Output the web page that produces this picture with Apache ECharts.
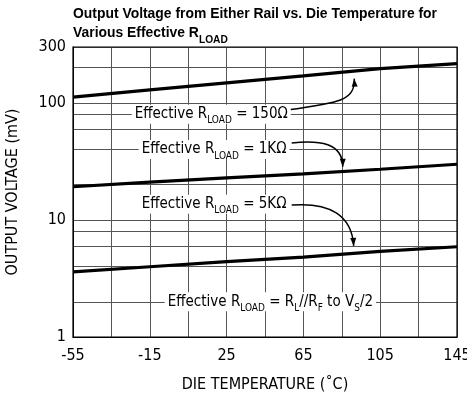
<!DOCTYPE html>
<html>
<head>
<meta charset="utf-8">
<script src="https://cdn.jsdelivr.net/npm/echarts@6/dist/echarts.min.js"></script>
<style>
  html, body { margin: 0; padding: 0; background: #fff; }
  #chart { width: 467px; height: 394px; }
</style>
</head>
<body>
<div id="chart"></div>
<script>
// Die temperature (°C) and output voltage from either rail (mV)
const temps = [-55, -15, 25, 65, 105, 145];
const rLoad150 = [112, 129, 148, 170, 196, 216];
const rLoad1k = [19.2, 21.0, 22.9, 24.7, 27.1, 29.9];
const rLoad5k = [3.6, 3.98, 4.41, 4.81, 5.38, 5.9];

// Axis ticks, grid lines and tick labels
const xGridValues = [-55, -35, -15, 5, 25, 45, 65, 85, 105, 125, 145];
const xLabelValues = [-55, -15, 25, 65, 105, 145];
const yGridValues = [1, 2, 4, 6, 8, 10, 20, 40, 60, 80, 100, 200, 300];
const yLabelValues = [1, 10, 100, 300];

// Heading lines
const titleLines = [
  'Output Voltage from Either Rail vs. Die Temperature for',
  'Various Effective R{s|LOAD}'
];

// Callout texts, their anchor (temperature, mV) and leader curves in data space
const calloutTexts = [
  'Effective R{s|LOAD} = 150Ω',
  'Effective R{s|LOAD} = 1KΩ',
  'Effective R{s|LOAD} = 5KΩ',
  'Effective R{s|LOAD} = R{s|L}//R{s|F} to V{s|S}/2'
];
const calloutAnchors = [[17, 80], [18.5, 40], [18.5, 13.6], [47.8, 2]];
const leaderCurves = [
  [[56.7, 87], [82.7, 99.5], [92.1, 104], [91.5, 161]],
  [[58.9, 45.5], [73.5, 48.3], [85.5, 45.5], [85.5, 28.4]],
  [[58.9, 13.4], [78.7, 14.2], [90.2, 11.0], [91.2, 6.0]],
  null
];

const FONT = "'Liberation Sans Narrow', 'DejaVu Sans Condensed', 'Arial Narrow', sans-serif";
const TITLE_FONT = "'Liberation Sans', Arial, sans-serif";
const toPairs = (vals) => temps.map((t, i) => [t, vals[i]]);

const chart = echarts.init(document.getElementById('chart'), null, { renderer: 'canvas' });

const lineSeries = (name, vals) => ({
  name,
  type: 'line',
  data: toPairs(vals),
  symbol: 'none',
  smooth: false,
  lineStyle: { color: '#000', width: 3.2 },
  z: 5
});

chart.setOption({
  animation: false,
  backgroundColor: '#fff',
  grid: { left: 73, right: 10, top: 47, bottom: 57, outerBoundsMode: 'none' },
  xAxis: {
    type: 'value',
    min: -55,
    max: 145,
    name: 'DIE TEMPERATURE (˚C)',
    nameLocation: 'middle',
    nameGap: 40,
    nameTextStyle: { fontFamily: FONT, fontSize: 16, color: '#000' },
    axisLine: { show: true, onZero: false, lineStyle: { color: '#000', width: 1 } },
    axisTick: { show: false, customValues: xGridValues },
    axisLabel: {
      customValues: xLabelValues,
      fontFamily: FONT, fontSize: 16, color: '#000', margin: 11
    },
    splitLine: { show: true, lineStyle: { color: '#555', width: 1 } }
  },
  yAxis: {
    type: 'log',
    logBase: 10,
    min: 1,
    max: 300,
    name: 'OUTPUT VOLTAGE (mV)',
    nameLocation: 'middle',
    nameGap: 52,
    nameTextStyle: { fontFamily: FONT, fontSize: 16, color: '#000' },
    axisLine: { show: true, onZero: false, lineStyle: { color: '#000', width: 1 } },
    axisTick: { show: false, customValues: yGridValues },
    axisLabel: {
      customValues: yLabelValues,
      fontFamily: FONT, fontSize: 16, color: '#000', margin: 7
    },
    splitLine: { show: true, lineStyle: { color: '#555', width: 1 } }
  },
  series: [
    lineSeries('150Ω', rLoad150),
    lineSeries('1KΩ', rLoad1k),
    lineSeries('5KΩ', rLoad5k)
  ]
});

// Heading, frame, callout boxes and leader arrows placed through the chart's coordinate system
function drawOverlays() {
  const px = (p) => chart.convertToPixel({ gridIndex: 0 }, p);
  const graphics = [];

  // Condensed bold heading: squeeze horizontally so the first line spans the plot width
  const ctx = document.createElement('canvas').getContext('2d');
  ctx.font = 'bold 15px ' + TITLE_FONT;
  const firstLineWidth = ctx.measureText(titleLines[0]).width;
  const tl = px([-55, 300]), br = px([145, 1]);
  const squeeze = (br[0] - tl[0] - 20) / firstLineWidth;
  graphics.push({
    type: 'text',
    x: tl[0],
    y: 4,
    scaleX: squeeze,
    z: 60,
    style: {
      text: titleLines.join('\n'),
      fontFamily: TITLE_FONT,
      fontWeight: 'bold',
      fontSize: 15,
      lineHeight: 19,
      fill: '#000',
      align: 'left',
      verticalAlign: 'top',
      rich: {
        s: { fontFamily: TITLE_FONT, fontWeight: 'bold', fontSize: 11, lineHeight: 11, verticalAlign: 'bottom', padding: [0, 0, -3, 0] }
      }
    }
  });

  calloutTexts.forEach((txt, i) => {
    const c = px(calloutAnchors[i]);
    graphics.push({
      type: 'text',
      x: c[0],
      y: c[1],
      z: 50,
      style: {
        text: txt,
        fontFamily: FONT,
        fontSize: 15,
        fill: '#000',
        align: 'center',
        verticalAlign: 'middle',
        backgroundColor: '#fff',
        padding: [2, 3, 2, 3],
        rich: {
          s: { fontFamily: FONT, fontSize: 10, lineHeight: 9, verticalAlign: 'bottom', padding: [0, 0, -4, 0] }
        }
      }
    });
    const curve = leaderCurves[i];
    if (!curve) return;
    const [p0, p1, p2, p3] = curve.map(px);
    graphics.push({
      type: 'bezierCurve',
      z: 49,
      shape: { x1: p0[0], y1: p0[1], cpx1: p1[0], cpy1: p1[1], cpx2: p2[0], cpy2: p2[1], x2: p3[0], y2: p3[1] },
      style: { stroke: '#000', lineWidth: 1.5, fill: null }
    });
    const ang = Math.atan2(p3[1] - p2[1], p3[0] - p2[0]);
    const len = 8, half = 3;
    const bx = p3[0] - len * Math.cos(ang), by = p3[1] - len * Math.sin(ang);
    graphics.push({
      type: 'polygon',
      z: 49,
      shape: {
        points: [
          [p3[0], p3[1]],
          [bx + half * Math.sin(ang), by - half * Math.cos(ang)],
          [bx - half * Math.sin(ang), by + half * Math.cos(ang)]
        ]
      },
      style: { fill: '#000' }
    });
  });

  graphics.push({
    type: 'rect',
    z: 48,
    shape: { x: tl[0], y: tl[1], width: br[0] - tl[0], height: br[1] - tl[1] },
    style: { fill: null, stroke: '#000', lineWidth: 1.2 }
  });
  chart.setOption({ graphic: graphics });
}
drawOverlays();
</script>
</body>
</html>
